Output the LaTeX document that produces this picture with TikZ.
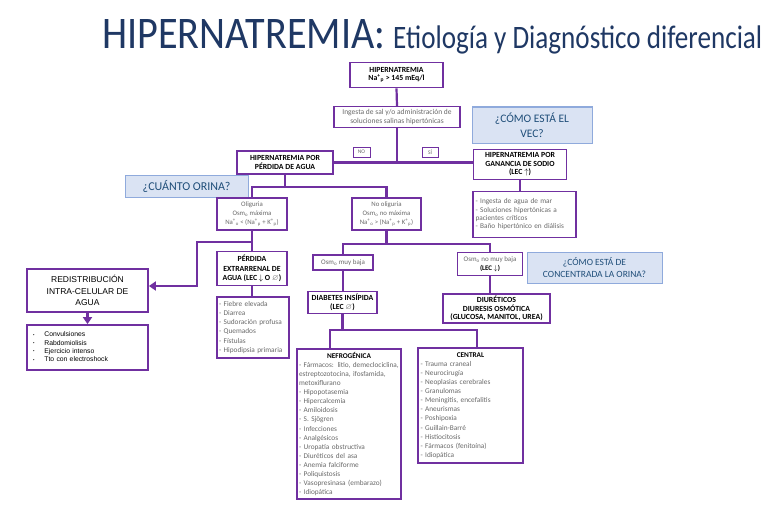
\documentclass[tikz,border=0pt]{standalone}
\usepackage{amsmath,amssymb}
\usepackage{fontspec}
\setmainfont{Carlito}
\newfontfamily\arialf{Liberation Sans}
\usetikzlibrary{arrows.meta}
\definecolor{pur}{RGB}{112,48,160}
\definecolor{grtx}{RGB}{105,105,105}
\definecolor{navy}{RGB}{31,56,100}
\definecolor{qfill}{RGB}{218,227,243}
\definecolor{qdraw}{RGB}{143,170,220}
\definecolor{qtext}{RGB}{31,78,121}
\newcommand\fs[2]{\fontsize{#1}{#2}\selectfont}
\newcommand\ion[2]{\textsuperscript{#1}\textsubscript{#2}}
\newcommand\smb{\raisebox{0.15ex}{\scalebox{0.6}{\textbullet}}}
\begin{document}
\begin{tikzpicture}[x=1pt,y=-1pt,
  sz/.style 2 args={minimum width=#1pt,minimum height=#2pt,inner sep=0pt},
  bbox/.style={draw=pur,line width=1.6pt,fill=white,align=center,font=\fs{7.8}{8.4}\bfseries},
  gbox/.style={draw=pur,line width=1.2pt,fill=white,align=center,text=grtx,font=\fs{7.5}{9}},
  lbox/.style={draw=pur,line width=1.2pt,fill=white,align=left,text=grtx,font=\fs{7.3}{9.1}},
  qbox/.style={draw=qdraw,line width=1pt,fill=qfill,align=center,text=qtext},
  conn/.style={draw=pur,line width=2.2pt},
  arr/.style={conn,-{Triangle[length=7pt,width=9pt]}},
]
\fill[white] (0,0) rectangle (767,508);
\useasboundingbox (0,0) rectangle (767,508);

% title
\node[anchor=base west,inner sep=0pt,text=navy] (t1) at (102,49) {\resizebox{283pt}{29pt}{HIPERNATREMIA:}};
\node[anchor=base west,inner sep=0pt,text=navy] (t2) at (393,49) {\resizebox{369pt}{21pt}{\vphantom{E}\smash{Etiología y Diagnóstico diferencial}}};

% nodes
\node[bbox,sz={93}{25}] (b1) at (396.5,75) {HIPERNATREMIA\\Na\ion{+}{p} > 145 mEq/l};
\node[gbox,sz={126}{21}] (b2) at (397,117) {Ingesta de sal y/o administración de\\soluciones salinas hipertónicas};
\node[gbox,sz={17}{10},line width=0.8pt,font=\fs{5.5}{6}] (no) at (361.5,152) {NO};
\node[gbox,sz={16}{10},line width=0.8pt,font=\fs{5.5}{6}] (si) at (430,152) {SÍ};
\node[bbox,sz={96}{23}] (perd) at (285,162.5) {HIPERNATREMIA POR\\PÉRDIDA DE AGUA};
\node[bbox,sz={93}{30}] (gan) at (520,164.5) {HIPERNATREMIA POR\\GANANCIA DE SODIO\\(LEC $\uparrow$)};
\node[lbox,sz={103}{46},text width=98pt,font=\fs{7.3}{8.3}] (ganl) at (524.5,214.5) {- Ingesta de agua de mar\\- Soluciones hipertónicas a\\pacientes críticos\\- Baño hipertónico en diálisis};

\node[qbox,sz={120}{36},font=\fs{11.5}{15}] (vec) at (532,125) {¿CÓMO ESTÁ EL\\VEC?};
\node[qbox,sz={123}{22},font=\fs{12}{14}] (cuanto) at (186.5,186) {¿CUÁNTO ORINA?};
\node[qbox,sz={135}{31},font=\fs{9.5}{12}] (conc) at (594.5,267.5) {¿CÓMO ESTÁ DE\\CONCENTRADA LA ORINA?};

\node[gbox,sz={70}{32},font=\fs{6.8}{9.2}] (olig) at (252,214) {Oliguria\\Osm\textsubscript{o} máxima\\Na\ion{+}{o} < (Na\ion{+}{p} + K\ion{+}{p})};
\node[gbox,sz={69}{32},font=\fs{6.8}{9.2}] (nolig) at (386.5,214) {No oliguria\\Osm\textsubscript{o} no máxima\\Na\ion{+}{o} > (Na\ion{+}{p} + K\ion{+}{p})};

\node[bbox,sz={70}{34},font=\fs{7.8}{9.4}\bfseries] (extr) at (252,268.5) {PÉRDIDA\\EXTRARRENAL DE\\AGUA (LEC $\downarrow$ O \textcolor{grtx}{$\varnothing$})};
\node[lbox,sz={72}{61},text width=68pt] (extl) at (253,327.5) {- Fiebre elevada\\- Diarrea\\- Sudoración profusa\\- Quemados\\- Fístulas\\- Hipodipsia primaria};

\node[draw=pur,line width=1.8pt,fill=white,sz={121}{43},align=center,font=\arialf\fs{8.5}{11.5}] (redis) at (87.5,290.5) {REDISTRIBUCIÓN\\INTRA-CELULAR DE\\AGUA};
\node[draw=pur,line width=1.8pt,fill=white,sz={121}{45},text width=109pt,align=left,font=\arialf\fs{6.8}{8.3}] (redl) at (87.5,347.5) {\begin{tabular}{@{}l@{\hspace{10pt}}l@{}}\smb&Convulsiones\\\smb&Rabdomiolisis\\\smb&Ejercicio intenso\\\smb&Tto con electroshock\end{tabular}};

\node[gbox,sz={60}{15},font=\fs{7}{8}] (mb) at (343,262.5) {Osm\textsubscript{o} muy baja};
\node[gbox,sz={65}{23},font=\fs{7}{8.5}] (nmb) at (490,264) {Osm\textsubscript{o} no muy baja\\\textcolor{black}{\bfseries (LEC $\downarrow$)}};
\node[bbox,sz={69}{22}] (di) at (342.5,302.5) {DIABETES INSÍPIDA\\(LEC \textcolor{grtx}{$\varnothing$})};
\node[bbox,sz={107}{29}] (diu) at (496.5,308.5) {DIURÉTICOS\\DIURESIS OSMÓTICA\\(GLUCOSA, MANITOL, UREA)};

\node[lbox,sz={104}{150},text width=100pt] (nef) at (349,424) {\makebox[\linewidth]{\color{black}\bfseries NEFROGÉNICA}\\- Fármacos: litio, demeclociclina,\\estreptozotocina, ifosfamida,\\metoxiflurano\\- Hipopotasemia\\- Hipercalcemia\\- Amiloidosis\\- S. Sjögren\\- Infecciones\\- Analgésicos\\- Uropatía obstructiva\\- Diuréticos del asa\\- Anemia falciforme\\- Poliquistosis\\- Vasopresinasa (embarazo)\\- Idiopática};
\node[lbox,sz={105}{115},text width=100pt] (cen) at (470.5,405.5) {\makebox[\linewidth]{\color{black}\bfseries CENTRAL}\\- Trauma craneal\\- Neurocirugía\\- Neoplasias cerebrales\\- Granulomas\\- Meningitis, encefalitis\\- Aneurismas\\- Poshipoxia\\- Guillain-Barré\\- Histiocitosis\\- Fármacos (fenitoína)\\- Idiopática};

% helper coordinates
\coordinate (h1) at (0,187);
\coordinate (h2) at (0,242);
\coordinate (vx) at (197,0);
\coordinate (h3) at (0,244);
\coordinate (h4) at (0,330);
\coordinate (h5) at (0,286);
\coordinate (vn) at (330,0);
\coordinate (vc) at (477,0);

% connectors
\draw[conn] (b1.south) -- (b2.north);
\draw[conn] (b2.south) -- (b2.south |- perd.east);
\draw[conn] (perd.east) -- (perd.east -| gan.west);
\draw[conn] (gan.south) -- (gan.south |- ganl.north);
\draw[conn] (perd.south) -- (perd.south |- h1);
\draw[conn] (olig.north) -- (olig.north |- h1) -- (nolig.north |- h1) -- (nolig.north);
\draw[conn] (olig.south) -- (extr.north);
\draw[arr] (olig.south |- h2) -- (vx |- h2) -- (vx |- h5) -- (redis.east |- h5);
\draw[conn] (extr.south) -- (extr.south |- extl.north);
\draw[arr] (redis.south) -- (redl.north);
\draw[conn] (nolig.south) -- (nolig.south |- h3);
\draw[conn] (mb.north) -- (mb.north |- h3) -- (nmb.north |- h3) -- (nmb.north);
\draw[conn] (mb.south) -- (mb.south |- di.north);
\draw[conn] (nmb.south) -- (nmb.south |- diu.north);
\draw[conn] (di.south) -- (di.south |- h4);
\draw[conn] (vn |- nef.north) -- (vn |- h4) -- (vc |- h4) -- (vc |- cen.north);
\end{tikzpicture}
\end{document}
